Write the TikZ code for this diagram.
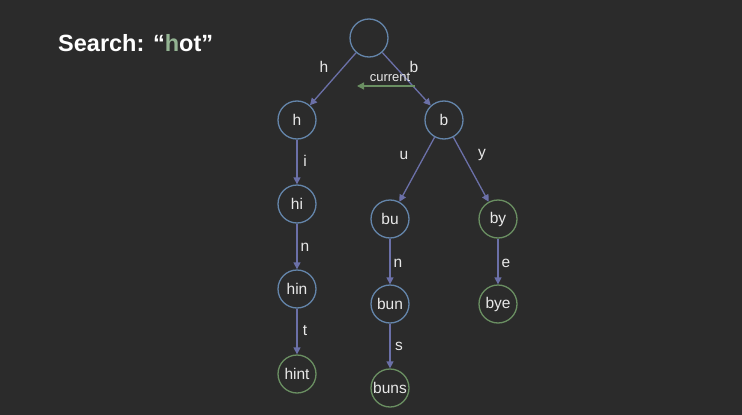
\documentclass[tikz,border=0pt]{standalone}
\usepackage{fontspec}
\setmainfont{Liberation Sans}
\usetikzlibrary{arrows.meta}
\definecolor{bgdark}{HTML}{2B2B2B}
\definecolor{nodeblue}{HTML}{6485AA}
\definecolor{leafgreen}{HTML}{6A8F62}
\definecolor{edgeblue}{HTML}{6B70A8}
\definecolor{markgreen}{HTML}{93B392}
\definecolor{txtgray}{HTML}{E8E8E8}
\begin{document}
\begin{tikzpicture}[x=1pt,y=-1pt,
    trie/.style={circle,draw=nodeblue,line width=1.3pt,minimum size=38pt,inner sep=0pt,text=txtgray,font=\fontsize{15.5}{17}\selectfont},
    leaf/.style={trie,draw=leafgreen},
    edge/.style={draw=edgeblue,line width=1.3pt,-{Triangle[length=7pt,width=7pt]}},
    lbl/.style={text=txtgray,font=\fontsize{15.5}{17}\selectfont}]
      \fill[bgdark] (0,0) rectangle (742,415);
      \useasboundingbox (0,0) rectangle (742,415);
      % title
      \node[anchor=west,inner sep=0pt,text=white,font=\bfseries\fontsize{23.5}{26}\selectfont] (title) at (58,43) {Search: \textquotedblleft{\color{markgreen}h}ot\textquotedblright};
      % trie nodes
      \node[trie] (root) at (369,38) {};
      \node[trie] (h) at (297,120) {h};
      \node[trie] (b) at (444,120) {b};
      \node[trie] (hi) at (297,204) {hi};
      \node[trie] (hin) at (297,289) {hin};
      \node[leaf] (hint) at (297,374) {hint};
      \node[trie] (bu) at (390,219) {bu};
      \node[trie] (bun) at (390,304) {bun};
      \node[leaf] (buns) at (390,388) {buns};
      \node[leaf] (by) at (498,219) {by};
      \node[leaf] (bye) at (498,304) {bye};
      % edges
      \draw[edge] (root) -- (h);
      \draw[edge] (root) -- (b);
      \draw[edge] (h) -- (hi);
      \draw[edge] (hi) -- (hin);
      \draw[edge] (hin) -- (hint);
      \draw[edge] (b) -- (bu);
      \draw[edge] (bu) -- (bun);
      \draw[edge] (bun) -- (buns);
      \draw[edge] (b) -- (by);
      \draw[edge] (by) -- (bye);
      % edge letters
      \node[lbl] (lh) at (324,67) {h};
      \node[lbl] (lb) at (414,67) {b};
      \node[lbl] (li) at (305,161) {i};
      \node[lbl] (ln1) at (305,247) {n};
      \node[lbl] (lt) at (305,331) {t};
      \node[lbl] (lu) at (404,155) {u};
      \node[lbl] (ly) at (482,155) {y};
      \node[lbl] (ln2) at (398,263) {n};
      \node[lbl] (ls) at (399,346) {s};
      \node[lbl] (le) at (506,263) {e};
      % current pointer
      \coordinate (curfrom) at (415,86);
      \coordinate (curto) at (357,86);
      \draw[draw=leafgreen,line width=1.3pt,-{Triangle[length=7pt,width=7pt]}] (curfrom) -- (curto);
      \node[text=txtgray,font=\fontsize{13}{15}\selectfont] (current) at (390,77) {current};
\end{tikzpicture}
\end{document}
